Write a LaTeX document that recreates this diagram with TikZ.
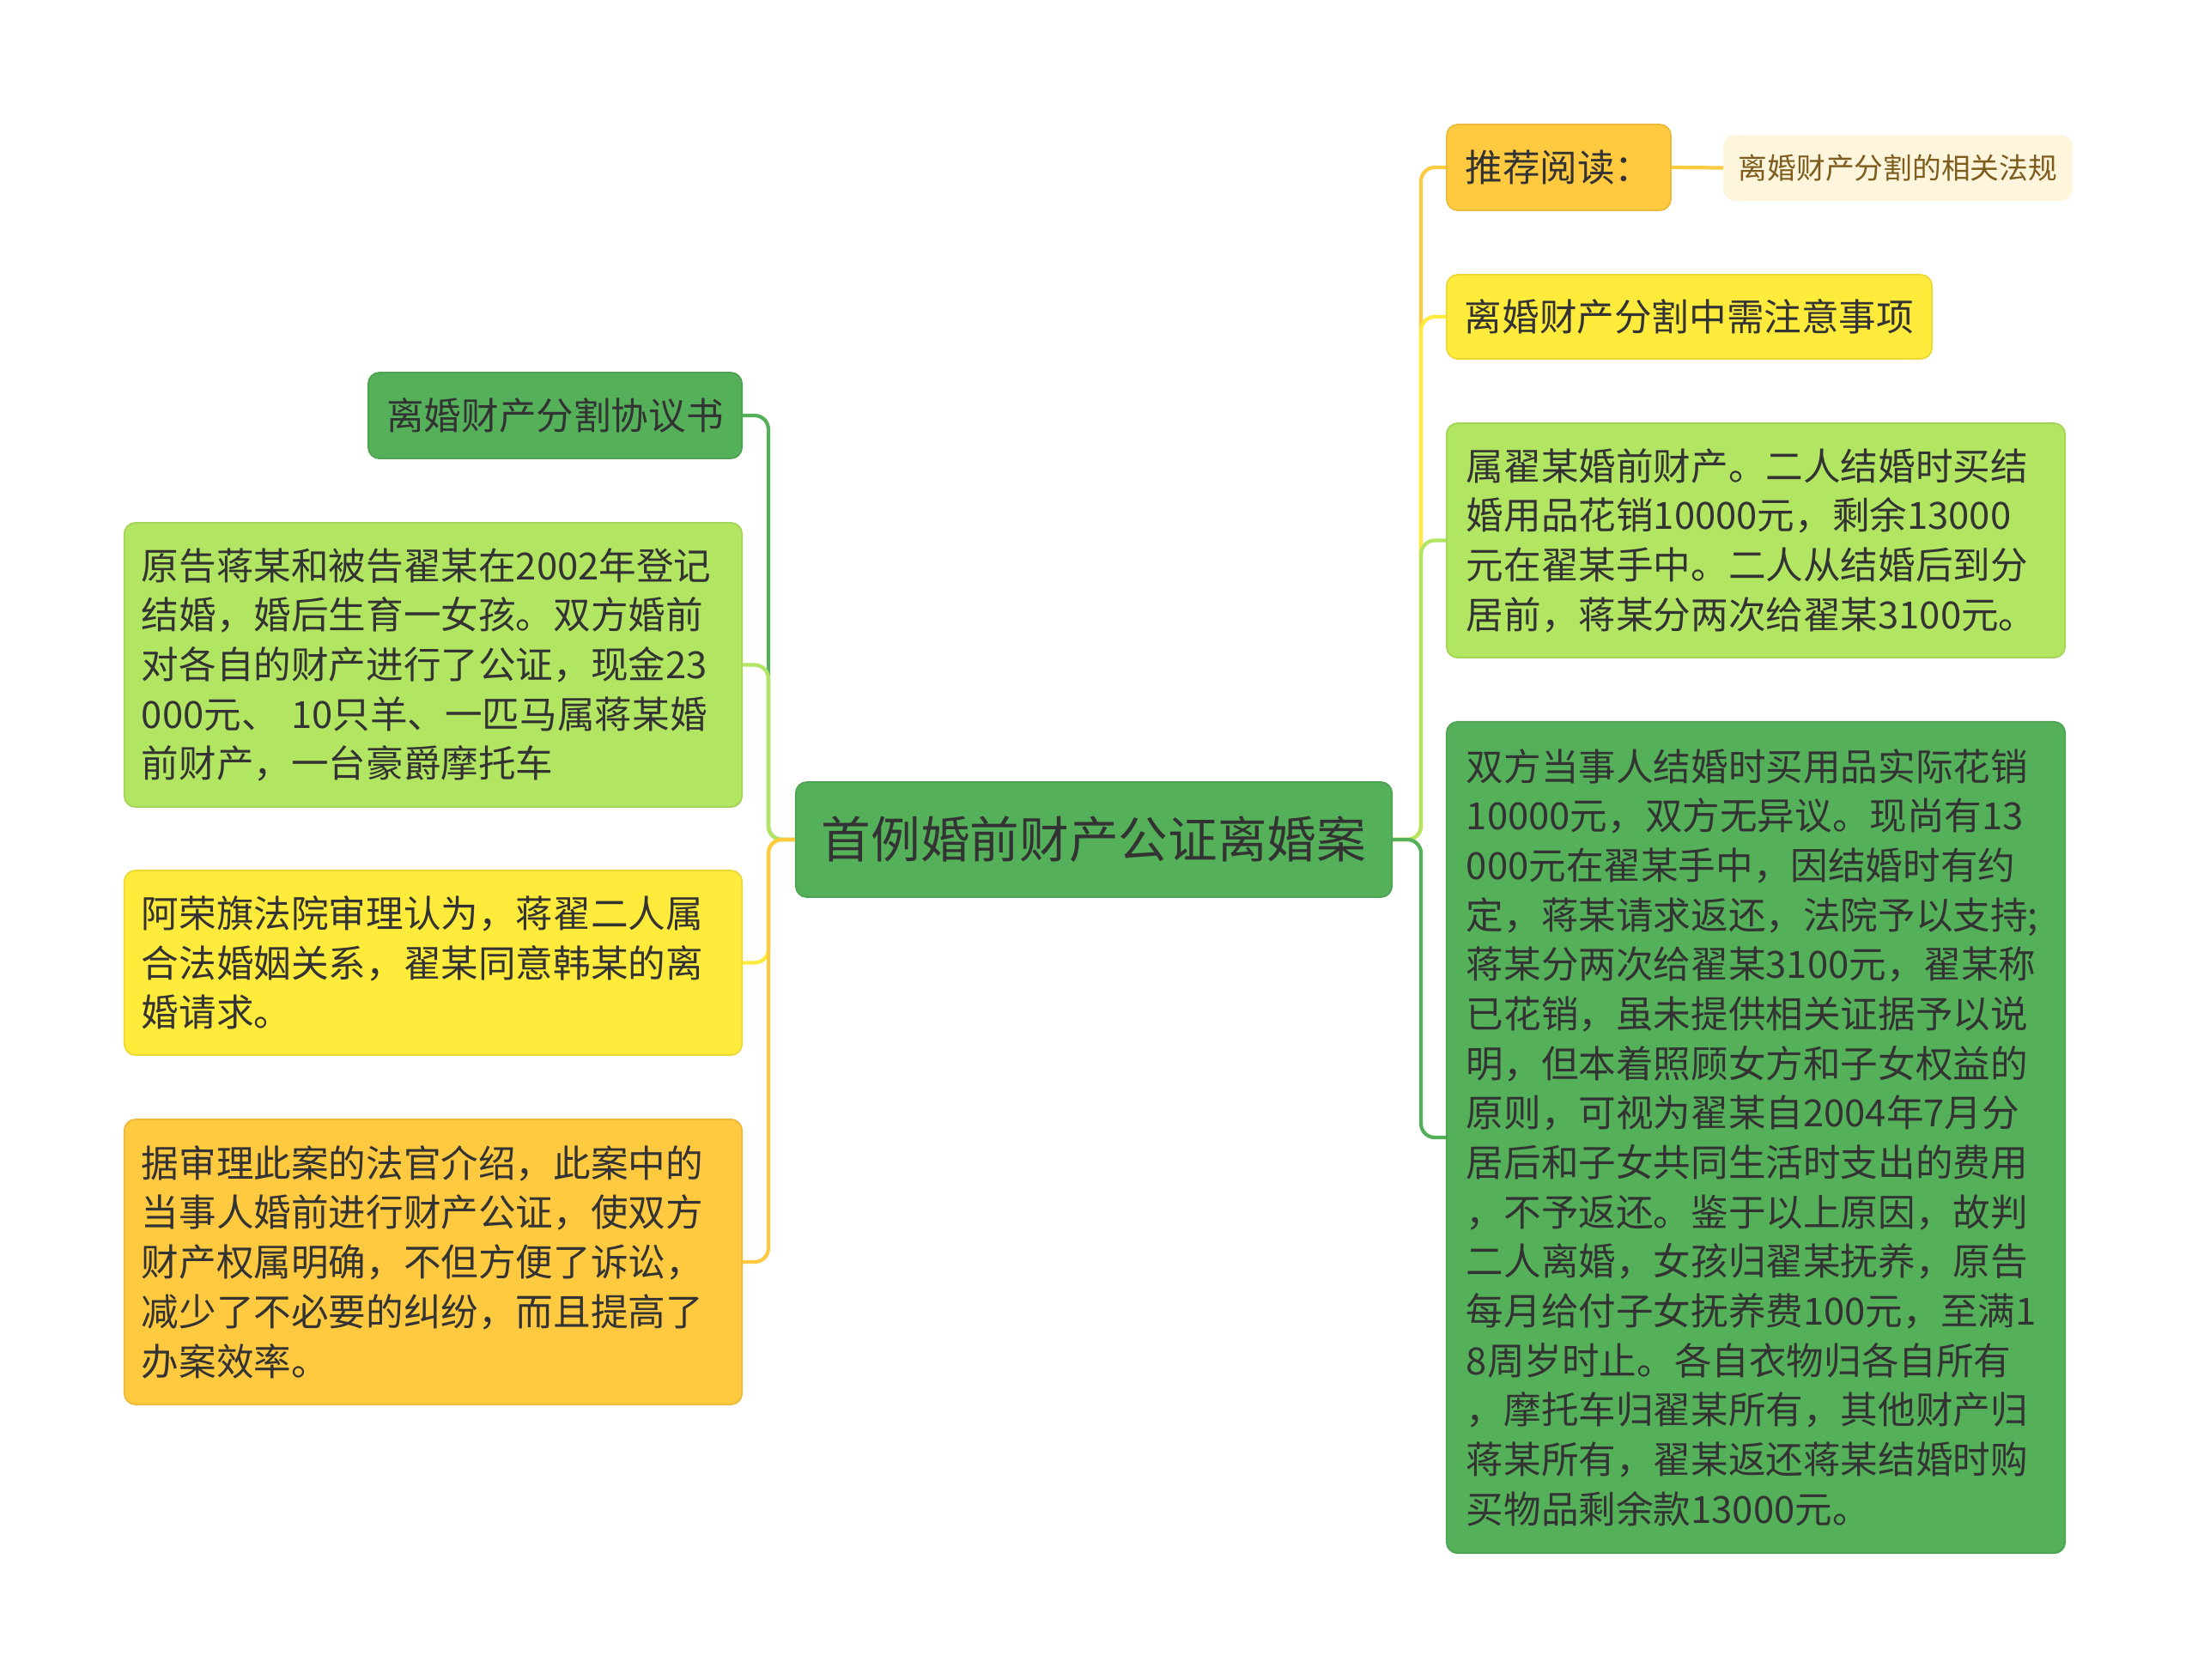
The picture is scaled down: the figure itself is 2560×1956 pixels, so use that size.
\documentclass[tikz,border=0pt]{standalone}
\usepackage{fontspec}
\newfontfamily\cjk{Noto Sans CJK SC}
\usetikzlibrary{positioning}
\definecolor{mapgreen}{RGB}{85,176,90}
\definecolor{maplime}{RGB}{178,229,97}
\definecolor{mapyellow}{RGB}{255,235,59}
\definecolor{maporange}{RGB}{255,202,64}
\definecolor{mapcream}{RGB}{253,245,220}
\definecolor{maptext}{RGB}{51,51,51}
\definecolor{mapbrown}{RGB}{125,92,30}

\begin{document}
\begin{tikzpicture}[
    x=0.01cm, y=-0.01cm,
    topic/.style={
        rounded corners=0.13cm, fill=#1,
        draw=#1!92!black, line width=0.5pt,
        text=maptext,
        font=\cjk\fontsize{12.4}{16.4}\selectfont
    },
    textbox/.style={topic=#1, text width=6.79cm,
        align=left, inner xsep=0.2cm},
    link/.style={line width=1.2pt,
        rounded corners=0.16cm, draw=#1}
]
\fill[white] (0,0) rectangle (2560,1956);
\useasboundingbox (0,0) rectangle (2560,1956);

\node[topic=mapgreen, minimum width=6.94cm, minimum height=1.34cm,
    font=\cjk\fontsize{16.4}{20}\selectfont] (root) at (1274,978)
    {首例婚前财产公证离婚案};

% left side
\node[topic=mapgreen, minimum width=4.35cm, minimum height=1cm]
    (agree) at (646.5,484) {离婚财产分割协议书};
\node[textbox=maplime, minimum height=3.31cm] (facts) at (504.5,774.5)
    {原告蒋某和被告翟某在2002年登记\\结婚，婚后生育一女孩。双方婚前\\对各自的财产进行了公证，现金23\\000元、 10只羊、一匹马属蒋某婚\\前财产，一台豪爵摩托车};
\node[textbox=mapyellow, minimum height=2.15cm] (court) at (504.5,1121.5)
    {阿荣旗法院审理认为，蒋翟二人属\\合法婚姻关系，翟某同意韩某的离\\婚请求。};
\node[textbox=maporange, minimum height=3.32cm] (judge) at (504.5,1470)
    {据审理此案的法官介绍，此案中的\\当事人婚前进行财产公证，使双方\\财产权属明确，不但方便了诉讼，\\减少了不必要的纠纷，而且提高了\\办案效率。};

% right side
\node[topic=maporange, minimum width=2.61cm, minimum height=1cm]
    (read) at (1815.5,195) {推荐阅读：};
\node[topic=mapcream, draw=mapcream, text=mapbrown,
    font=\cjk\fontsize{9.6}{12}\selectfont,
    minimum width=4.05cm, minimum height=0.75cm]
    (law) at (2210.5,195.5) {离婚财产分割的相关法规};
\node[topic=mapyellow, minimum width=5.65cm, minimum height=0.98cm]
    (notice) at (1967.5,369) {离婚财产分割中需注意事项};
\node[textbox=maplime, text width=6.74cm, inner xsep=0.23cm,
    minimum height=2.73cm] (own) at (2045,629.5)
    {属翟某婚前财产。二人结婚时买结\\婚用品花销10000元，剩余13000\\元在翟某手中。二人从结婚后到分\\居前，蒋某分两次给翟某3100元。};
\node[textbox=mapgreen, text width=6.74cm, inner xsep=0.23cm,
    minimum height=9.68cm] (ruling) at (2045,1325)
    {双方当事人结婚时买用品实际花销\\10000元，双方无异议。现尚有13\\000元在翟某手中，因结婚时有约\\定，蒋某请求返还，法院予以支持;\\蒋某分两次给翟某3100元，翟某称\\已花销，虽未提供相关证据予以说\\明，但本着照顾女方和子女权益的\\原则，可视为翟某自2004年7月分\\居后和子女共同生活时支出的费用\\，不予返还。鉴于以上原因，故判\\二人离婚，女孩归翟某抚养，原告\\每月给付子女抚养费100元，至满1\\8周岁时止。各自衣物归各自所有\\，摩托车归翟某所有，其他财产归\\蒋某所有，翟某返还蒋某结婚时购\\买物品剩余款13000元。};

% connectors
\draw[link=mapgreen] (root.west) -- ++(-31,0) |- (agree.east);
\draw[link=maplime] (root.west) -- ++(-31,0) |- (facts.east);
\draw[link=mapyellow] (root.west) -- ++(-31,0) |- (court.east);
\draw[link=maporange] (root.west) -- ++(-31,0) |- (judge.east);
\draw[link=maporange] (root.east) -- ++(33,0) |- (read.west);
\draw[link=mapyellow] (root.east) -- ++(33,0) |- (notice.west);
\draw[link=maplime] (root.east) -- ++(33,0) |- (own.west);
\draw[link=mapgreen] (root.east) -- ++(33,0) |- (ruling.west);
\draw[link=maporange] (read.east) -- (law.west);
\end{tikzpicture}
\end{document}
